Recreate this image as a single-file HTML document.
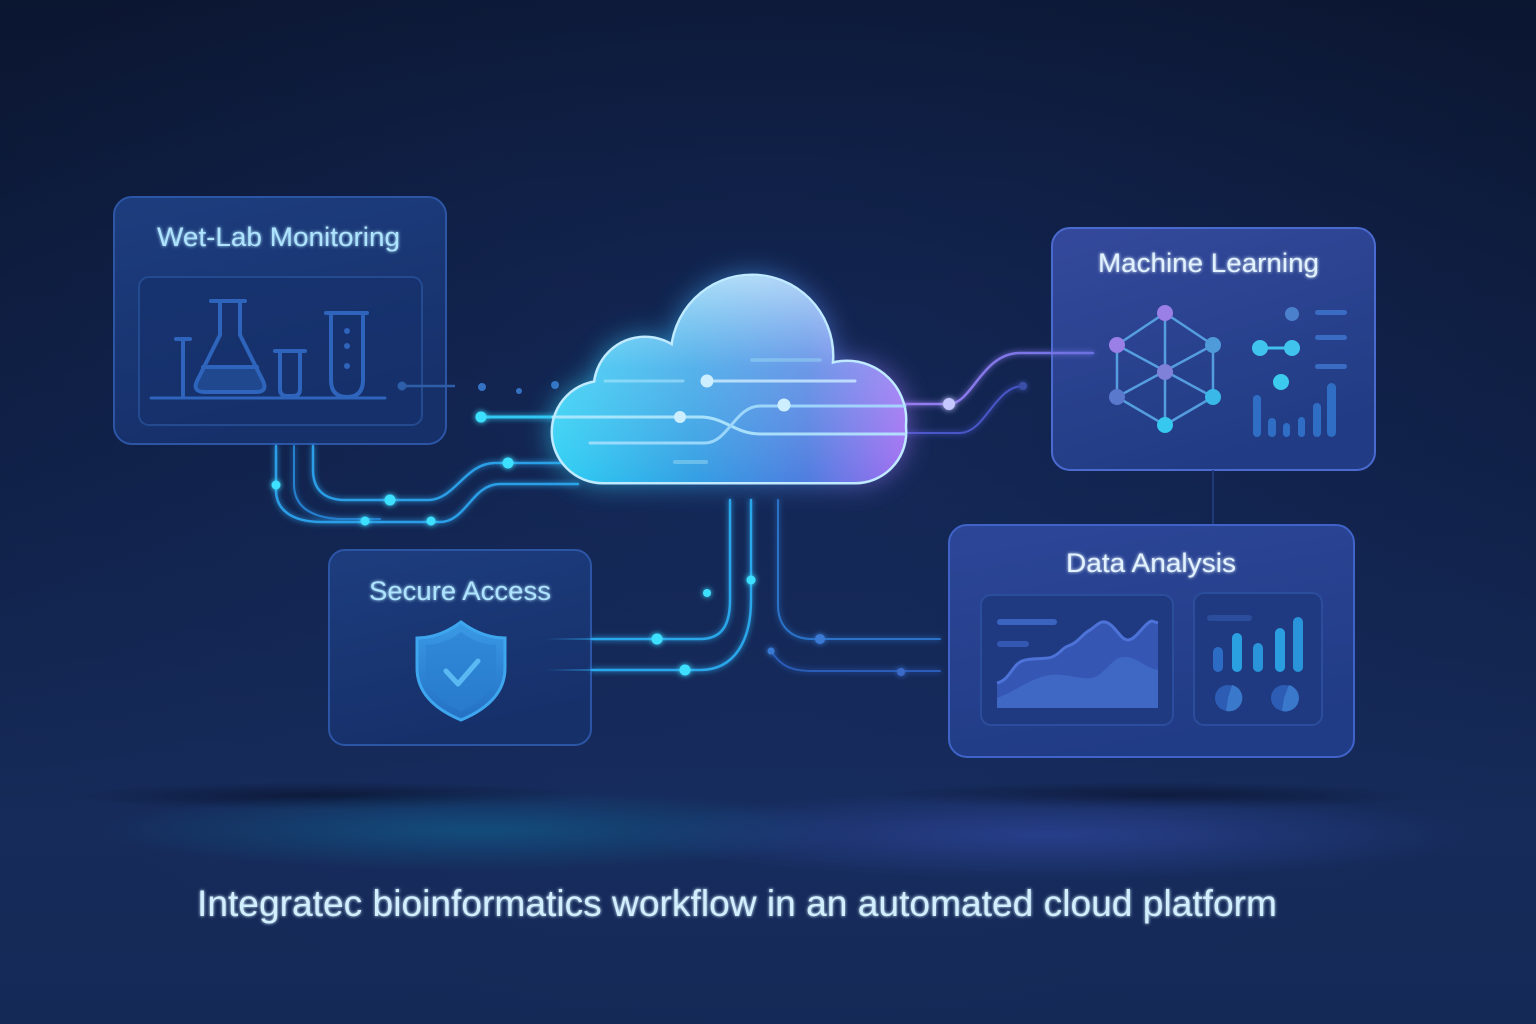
<!DOCTYPE html>
<html><head><meta charset="utf-8"><style>
html,body{margin:0;padding:0;background:#0e1b3a;}
svg{display:block}
text{font-family:"Liberation Sans",sans-serif;}
</style></head><body>
<svg width="1536" height="1024" viewBox="0 0 1536 1024" xmlns="http://www.w3.org/2000/svg">
<defs>
  <linearGradient id="bg" x1="0" y1="0" x2="0" y2="1">
    <stop offset="0" stop-color="#0b1631"/>
    <stop offset="0.45" stop-color="#0f1f44"/>
    <stop offset="0.8" stop-color="#162b5a"/>
    <stop offset="1" stop-color="#152957"/>
  </linearGradient>
  <radialGradient id="bgc" cx="0.5" cy="0.42" r="0.6">
    <stop offset="0" stop-color="#1a3370" stop-opacity="0.45"/>
    <stop offset="1" stop-color="#1a3370" stop-opacity="0"/>
  </radialGradient>
  <radialGradient id="band1" cx="0.5" cy="0.5" r="0.5">
    <stop offset="0" stop-color="#12507f" stop-opacity="0.9"/>
    <stop offset="1" stop-color="#12507f" stop-opacity="0"/>
  </radialGradient>
  <radialGradient id="band2" cx="0.5" cy="0.5" r="0.5">
    <stop offset="0" stop-color="#2a4292" stop-opacity="0.85"/>
    <stop offset="1" stop-color="#2a4292" stop-opacity="0"/>
  </radialGradient>
  <radialGradient id="shadow" cx="0.5" cy="0.5" r="0.5">
    <stop offset="0" stop-color="#08112a" stop-opacity="0.7"/>
    <stop offset="1" stop-color="#08112a" stop-opacity="0"/>
  </radialGradient>
  <linearGradient id="boxA" x1="0" y1="0" x2="0.3" y2="1">
    <stop offset="0" stop-color="#1d3d7e"/>
    <stop offset="1" stop-color="#16306a"/>
  </linearGradient>
  <linearGradient id="boxML" x1="0" y1="0" x2="0.4" y2="1">
    <stop offset="0" stop-color="#34499c"/>
    <stop offset="1" stop-color="#213c84"/>
  </linearGradient>
  <linearGradient id="boxDA" x1="0" y1="0" x2="0.3" y2="1">
    <stop offset="0" stop-color="#2d4698"/>
    <stop offset="1" stop-color="#213c86"/>
  </linearGradient>
  <linearGradient id="cloudH" gradientUnits="userSpaceOnUse" x1="553" y1="0" x2="905" y2="0">
    <stop offset="0" stop-color="#2fd0f4"/>
    <stop offset="0.4" stop-color="#34a0e4"/>
    <stop offset="0.72" stop-color="#4f7ee0"/>
    <stop offset="1" stop-color="#a06ef2"/>
  </linearGradient>
  <linearGradient id="cloudV" gradientUnits="userSpaceOnUse" x1="0" y1="275" x2="0" y2="482">
    <stop offset="0" stop-color="#d8f4ff" stop-opacity="0.75"/>
    <stop offset="0.45" stop-color="#c0e8ff" stop-opacity="0.25"/>
    <stop offset="1" stop-color="#ffffff" stop-opacity="0"/>
  </linearGradient>
  <mask id="cm" maskUnits="userSpaceOnUse" x="0" y="0" width="1536" height="1024">
    <g fill="#fff">
      <rect x="553" y="382" width="352" height="100" rx="50"/>
      <circle cx="645" cy="388" r="50"/>
      <circle cx="752" cy="356" r="80"/>
      <circle cx="847" cy="420" r="58"/>
    </g>
  </mask>
  <linearGradient id="mlLine" gradientUnits="userSpaceOnUse" x1="900" y1="0" x2="1100" y2="0">
    <stop offset="0" stop-color="#9a7ef0"/>
    <stop offset="1" stop-color="#6a70e0"/>
  </linearGradient>
  <linearGradient id="fadeL" gradientUnits="userSpaceOnUse" x1="545" y1="0" x2="600" y2="0">
    <stop offset="0" stop-color="#2aa6ea" stop-opacity="0"/>
    <stop offset="1" stop-color="#2aa6ea" stop-opacity="0.6"/>
  </linearGradient>
  <linearGradient id="shieldG" x1="0" y1="0" x2="0" y2="1">
    <stop offset="0" stop-color="#3a9ae6"/>
    <stop offset="1" stop-color="#2470c4"/>
  </linearGradient>
  <filter id="glow" x="-50%" y="-50%" width="200%" height="200%">
    <feGaussianBlur stdDeviation="3" result="b"/>
    <feMerge><feMergeNode in="b"/><feMergeNode in="SourceGraphic"/></feMerge>
  </filter>
  <filter id="bigblur" x="-50%" y="-50%" width="200%" height="200%">
    <feGaussianBlur stdDeviation="14"/>
  </filter>
  <filter id="tglow" x="-20%" y="-50%" width="140%" height="200%">
    <feGaussianBlur stdDeviation="1.6" result="b"/>
    <feMerge><feMergeNode in="b"/><feMergeNode in="SourceGraphic"/></feMerge>
  </filter>
</defs>

<!-- background -->
<rect width="1536" height="1024" fill="url(#bg)"/>
<rect width="1536" height="1024" fill="url(#bgc)"/>
<ellipse cx="330" cy="796" rx="260" ry="14" fill="url(#shadow)"/>
<ellipse cx="1150" cy="796" rx="270" ry="14" fill="url(#shadow)"/>
<ellipse cx="480" cy="830" rx="380" ry="40" fill="url(#band1)"/>
<ellipse cx="1050" cy="835" rx="420" ry="45" fill="url(#band2)"/>

<!-- Wet-Lab box -->
<rect x="114" y="197" width="332" height="247" rx="18" fill="url(#boxA)" stroke="#2c55a6" stroke-width="2"/>
<text x="157" y="246" font-size="27" fill="#aee4ff" textLength="243" lengthAdjust="spacingAndGlyphs" filter="url(#tglow)">Wet-Lab Monitoring</text>
<rect x="139" y="277" width="283" height="148" rx="10" fill="#15306a" fill-opacity="0.6" stroke="#244a90" stroke-width="2"/>
<g stroke="#2e64bb" stroke-width="4" fill="none" stroke-linecap="round" stroke-linejoin="round">
  <path d="M176 339 H190 M183 341 V396"/>
  <path d="M204 367 L257 367 L264 382 Q267 392 256 392 H204 Q193 392 197 382 Z" fill="#20488f" stroke="none"/>
  <path d="M211 301 H245"/>
  <path d="M220 302 V335 L197 381 Q192 392 205 392 H256 Q268 392 263 381 L240 335 V302"/>
  <path d="M203 367 H257"/>
  <path d="M275 351 H305"/>
  <path d="M280 353 V389 Q280 396 287 396 H293 Q300 396 300 389 V353"/>
  <path d="M326 313 H367"/>
  <path d="M331 315 V380 Q331 397 347 397 Q363 397 363 380 V315"/>
  <path d="M151 398 H385" stroke-width="3"/>
</g>
<g fill="#2e64bb"><circle cx="347" cy="331" r="3"/><circle cx="347" cy="346" r="3"/><circle cx="347" cy="366" r="3"/></g>
<line x1="402" y1="386" x2="455" y2="386" stroke="#2e5ea8" stroke-width="2.5"/>
<circle cx="402" cy="386" r="4.5" fill="#2e5ea8"/>
<g fill="#3572c4"><circle cx="482" cy="387" r="4"/><circle cx="519" cy="391" r="3"/><circle cx="555" cy="385" r="4"/></g>

<!-- Secure Access box -->
<rect x="329" y="550" width="262" height="195" rx="16" fill="url(#boxA)" stroke="#2c55a6" stroke-width="2"/>
<text x="369" y="600" font-size="27" fill="#aee4ff" textLength="182" lengthAdjust="spacingAndGlyphs" filter="url(#tglow)">Secure Access</text>
<path d="M461 622 C445 634 430 638 417 638 V668 C417 694 437 710 461 720 C485 710 505 694 505 668 V638 C492 638 477 634 461 622 Z" fill="url(#shieldG)" stroke="#3ea6ee" stroke-width="3"/>
<path d="M461 632 C448 642 436 645 426 645 V668 C426 690 442 703 461 711 C480 703 496 690 496 668 V645 C486 645 474 642 461 632 Z" fill="#2b80d0" opacity="0.6"/>
<path d="M446 671 L458 684 L478 661" fill="none" stroke="#5ab8f2" stroke-width="5" stroke-linecap="round" stroke-linejoin="round"/>
<line x1="545" y1="639" x2="592" y2="639" stroke="url(#fadeL)" stroke-width="2"/>
<line x1="545" y1="670" x2="592" y2="670" stroke="url(#fadeL)" stroke-width="2"/>

<!-- Machine Learning box -->
<rect x="1052" y="228" width="323" height="242" rx="18" fill="url(#boxML)" stroke="#4b6ad0" stroke-width="2"/>
<text x="1098" y="272" font-size="27" fill="#e2f3ff" textLength="221" lengthAdjust="spacingAndGlyphs" filter="url(#tglow)">Machine Learning</text>
<g stroke="#5aa8e8" stroke-width="2.5" fill="none" opacity="0.9">
  <path d="M1165 313 L1117 345 L1117 397 L1165 425 L1213 397 L1213 345 Z"/>
  <path d="M1165 313 V425 M1117 345 L1213 397 M1213 345 L1117 397"/>
</g>
<g>
  <circle cx="1165" cy="313" r="8" fill="#9a80e6"/>
  <circle cx="1117" cy="345" r="8" fill="#9a80e6"/>
  <circle cx="1213" cy="345" r="8" fill="#4f9ad8"/>
  <circle cx="1165" cy="372" r="8" fill="#7f80d8"/>
  <circle cx="1117" cy="397" r="8" fill="#5a78cc"/>
  <circle cx="1213" cy="397" r="8" fill="#3ab8e8"/>
  <circle cx="1165" cy="425" r="8" fill="#36c8ee"/>
</g>
<circle cx="1292" cy="314" r="7" fill="#4a80cc"/>
<line x1="1260" y1="348" x2="1292" y2="348" stroke="#40c0ec" stroke-width="3"/>
<circle cx="1260" cy="348" r="8" fill="#40c4ee"/>
<circle cx="1292" cy="348" r="8" fill="#40c4ee"/>
<circle cx="1281" cy="382" r="8" fill="#3ccaee"/>
<g fill="#3a6cc4"><rect x="1315" y="310" width="32" height="5" rx="2.5"/><rect x="1315" y="335" width="32" height="5" rx="2.5"/><rect x="1315" y="364" width="32" height="5" rx="2.5"/></g>
<g fill="#2f6ec4">
  <rect x="1253" y="395" width="8" height="42" rx="4"/>
  <rect x="1268" y="418" width="8" height="19" rx="4"/>
  <rect x="1283" y="423" width="7" height="14" rx="3.5"/>
  <rect x="1298" y="417" width="7" height="20" rx="3.5"/>
  <rect x="1313" y="403" width="8" height="34" rx="4"/>
  <rect x="1327" y="383" width="9" height="54" rx="4.5"/>
</g>
<line x1="1213" y1="470" x2="1213" y2="525" stroke="#1f3a78" stroke-width="2"/>

<!-- Data Analysis box -->
<rect x="949" y="525" width="405" height="232" rx="18" fill="url(#boxDA)" stroke="#3f63c8" stroke-width="2"/>
<text x="1066" y="572" font-size="27" fill="#e2f3ff" textLength="170" lengthAdjust="spacingAndGlyphs" filter="url(#tglow)">Data Analysis</text>
<rect x="981" y="595" width="192" height="130" rx="10" fill="#1f3a80" stroke="#2c4c9c" stroke-width="2"/>
<rect x="1194" y="593" width="128" height="132" rx="10" fill="#1f3a80" stroke="#2c4c9c" stroke-width="2"/>
<path d="M997 683 C1010 680 1012 665 1022 661 C1032 657 1045 660 1052 657 C1060 654 1062 648 1068 646 C1078 643 1082 634 1090 630 C1096 626 1100 621 1105 622 C1115 624 1120 640 1128 640 C1136 640 1145 622 1152 621 L1158 623 V708 H997 Z" fill="#3656b4"/>
<path d="M997 683 C1010 680 1012 665 1022 661 C1032 657 1045 660 1052 657 C1060 654 1062 648 1068 646 C1078 643 1082 634 1090 630 C1096 626 1100 621 1105 622 C1115 624 1120 640 1128 640 C1136 640 1145 622 1152 621 L1158 623" fill="none" stroke="#4d72d8" stroke-width="3"/>
<path d="M997 698 C1015 692 1030 678 1050 675 C1065 673 1080 680 1092 678 C1105 675 1112 657 1124 657 C1138 657 1145 668 1158 670 V708 H997 Z" fill="#3f68c4"/>
<rect x="997" y="619" width="60" height="6" rx="3" fill="#3a64c0"/>
<rect x="997" y="641" width="32" height="6" rx="3" fill="#3358b4"/>
<rect x="1207" y="615" width="45" height="6" rx="3" fill="#2c4c9c"/>
<g>
  <rect x="1213" y="647" width="10" height="25" rx="5" fill="#2c6cc4"/>
  <rect x="1232" y="633" width="10" height="39" rx="5" fill="#2aa0e0"/>
  <rect x="1253" y="643" width="10" height="29" rx="5" fill="#2a94da"/>
  <rect x="1275" y="628" width="10" height="44" rx="5" fill="#2a9ee0"/>
  <rect x="1293" y="617" width="10" height="55" rx="5" fill="#2a94da"/>
</g>
<circle cx="1228" cy="698" r="13" fill="#2d5cb4"/>
<path d="M1228 698 L1232 685 A13 13 0 0 1 1226 711 Z" fill="#3a78cc"/>
<circle cx="1284" cy="698" r="13" fill="#2d5cb4"/>
<path d="M1284 698 L1289 685 A13 13 0 0 1 1282 711 Z" fill="#3a78cc"/>

<!-- connectors -->
<g fill="none" stroke-linecap="round" filter="url(#glow)">
  <path d="M276 446 V490 C276 510 292 522 322 522 H440 C466 522 472 484 500 484 H578" stroke="#2a9ee6" stroke-width="2.5"/>
  <path d="M294 446 V484 C294 506 310 517 338 519 H380" stroke="#2580d0" stroke-width="2"/>
  <path d="M313 446 V470 C313 490 325 500 345 500 H428 C455 500 465 463 495 463 H572" stroke="#2a9ee6" stroke-width="2.5"/>
  <path d="M481 417 H560" stroke="#30c8f4" stroke-width="3"/>
  <path d="M592 639 H700 C722 639 730 625 730 600 V500" stroke="#2aa6ea" stroke-width="2.5"/>
  <path d="M592 670 H700 C735 670 751 640 751 600 V500" stroke="#2aa6ea" stroke-width="2.5"/>
  <path d="M778 500 V605 C778 625 790 639 812 639 H940" stroke="#2a72c8" stroke-width="2"/>
  <path d="M771 651 C780 665 790 671 812 671 H940" stroke="#2a5cb8" stroke-width="2"/>
  <path d="M903 404 H949 C972 404 982 353 1020 353 H1093" stroke="url(#mlLine)" stroke-width="2.5"/>
  <path d="M903 433 H960 C985 433 995 386 1023 386" stroke="#4a56c8" stroke-width="2"/>
</g>

<!-- cloud glow -->
<g filter="url(#bigblur)" opacity="0.75">
  <rect x="553" y="382" width="352" height="100" rx="50" fill="url(#cloudH)"/>
  <circle cx="645" cy="388" r="50" fill="url(#cloudH)"/>
  <circle cx="752" cy="356" r="80" fill="url(#cloudH)"/>
  <circle cx="847" cy="420" r="58" fill="url(#cloudH)"/>
</g>
<!-- cloud outline -->
<g stroke="#bfeaff" stroke-width="5" fill="#3aa0e4">
  <rect x="553" y="382" width="352" height="100" rx="50"/>
  <circle cx="645" cy="388" r="50"/>
  <circle cx="752" cy="356" r="80"/>
  <circle cx="847" cy="420" r="58"/>
</g>
<rect x="540" y="270" width="380" height="220" fill="url(#cloudH)" mask="url(#cm)"/>
<rect x="540" y="270" width="380" height="220" fill="url(#cloudV)" mask="url(#cm)"/>
<!-- cloud inner lines -->
<g fill="none" stroke-linecap="round" opacity="0.85">
  <path d="M752 360 H820" stroke="#9ad8f4" stroke-width="3.5" opacity="0.6"/>
  <path d="M605 381 H683" stroke="#b8ecff" stroke-width="3" opacity="0.6"/>
  <path d="M707 381 H855" stroke="#c8e8ff" stroke-width="3"/>
  <path d="M553 417 H700 C725 417 735 434 760 434 H905" stroke="#b8ecff" stroke-width="3"/>
  <path d="M590 443 H705 C728 443 735 406 760 406 H905" stroke="#a8e0ff" stroke-width="3"/>
  <path d="M675 462 H706" stroke="#8ad0f0" stroke-width="4" opacity="0.7"/>
</g>
<g fill="#cdeeff">
  <circle cx="707" cy="381" r="6.5"/>
  <circle cx="680" cy="417" r="6"/>
  <circle cx="784" cy="405" r="6.5"/>
</g>

<!-- dots -->
<g filter="url(#glow)">
  <circle cx="481" cy="417" r="5.5" fill="#3ee0ff"/>
  <circle cx="276" cy="485" r="4.5" fill="#3ee0ff"/>
  <circle cx="390" cy="500" r="5.5" fill="#3ee0ff"/>
  <circle cx="508" cy="463" r="5.5" fill="#3ee0ff"/>
  <circle cx="365" cy="521" r="4.5" fill="#3ee0ff"/>
  <circle cx="431" cy="521" r="4.5" fill="#3ee0ff"/>
  <circle cx="657" cy="639" r="5.5" fill="#3ee0ff"/>
  <circle cx="685" cy="670" r="5.5" fill="#3ee0ff"/>
  <circle cx="707" cy="593" r="4" fill="#3ee0ff"/>
  <circle cx="751" cy="580" r="4.5" fill="#3ee0ff"/>
  <circle cx="820" cy="639" r="5" fill="#3a7ad4"/>
  <circle cx="771" cy="651" r="3.5" fill="#3a7ad4"/>
  <circle cx="901" cy="672" r="4" fill="#3a6ac8"/>
  <circle cx="949" cy="404" r="6" fill="#c4c8ff"/>
  <circle cx="1023" cy="386" r="4" fill="#3a50a8"/>
</g>

<!-- caption -->
<text x="197" y="916" font-size="37" fill="#d2efff" textLength="1080" lengthAdjust="spacingAndGlyphs" filter="url(#tglow)">Integratec bioinformatics workflow in an automated cloud platform</text>
</svg>
</body></html>
